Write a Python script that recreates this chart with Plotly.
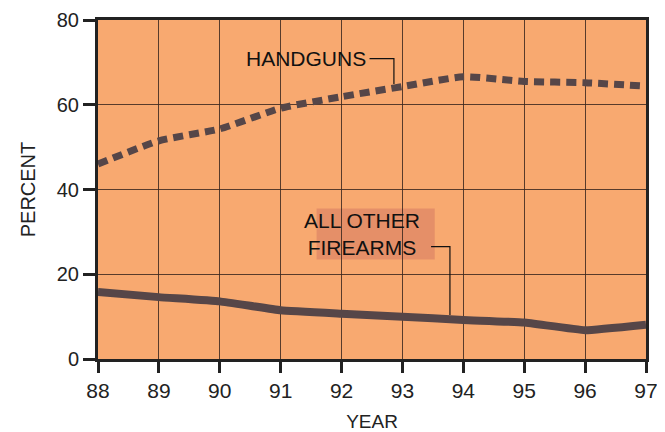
import plotly.graph_objects as go

years = [88, 89, 90, 91, 92, 93, 94, 95, 96, 97]
handguns = [46.0, 51.5, 54.3, 59.2, 61.9, 64.3, 66.6, 65.5, 65.2, 64.4]
other_firearms = [15.8, 14.6, 13.6, 11.5, 10.7, 10.0, 9.2, 8.6, 6.8, 8.1]
y_ticks = [0, 20, 40, 60, 80]

LINE_COLOR = "#564648"
BG = "#F8A970"
GRID = "rgba(60,40,30,0.85)"
FONT = "Liberation Sans, Arial, sans-serif"
NARROW = "Liberation Sans Narrow, Arial Narrow, Liberation Sans, sans-serif"

fig = go.Figure()
fig.add_trace(go.Scatter(
    x=years, y=handguns, mode="lines",
    line=dict(color=LINE_COLOR, width=7, dash="10px,6px", shape="spline", smoothing=0.5),
    showlegend=False, hoverinfo="skip"))
fig.add_trace(go.Scatter(
    x=years, y=other_firearms, mode="lines",
    line=dict(color=LINE_COLOR, width=8, shape="spline", smoothing=0.3),
    showlegend=False, hoverinfo="skip"))

# label box for ALL OTHER FIREARMS
fig.add_shape(type="rect", xref="x", yref="y", x0=91.59, x1=93.53, y0=23.5, y1=35.5,
              fillcolor="#E58F68", line=dict(width=0), layer="below")
# leader lines
fig.add_shape(type="path", xref="x", yref="y",
              path="M 92.46 70.9 L 92.86 70.9 L 92.86 64.9",
              line=dict(color="#111111", width=1.2))
fig.add_shape(type="path", xref="x", yref="y",
              path="M 93.47 26.5 L 93.78 26.5 L 93.78 10.4",
              line=dict(color="#111111", width=1.2))

fig.add_annotation(x=92.43, y=70.9, xref="x", yref="y", text="HANDGUNS",
                   showarrow=False, xanchor="right", yanchor="middle",
                   font=dict(family=FONT, size=21, color="#111111"))
fig.add_annotation(x=92.33, y=29.5, xref="x", yref="y", text="ALL OTHER<br>FIREARMS",
                   showarrow=False, xanchor="center", yanchor="middle", align="center",
                   font=dict(family=FONT, size=21, color="#111111"))

fig.update_layout(
    width=657, height=424,
    margin=dict(l=90, r=19, t=12, b=73, autoexpand=False),
    paper_bgcolor="white", plot_bgcolor=BG,
    font=dict(family=FONT, size=19, color="#222222"),
    xaxis=dict(
        range=[88, 97], tickmode="array", tickvals=years,
        ticktext=[str(y) for y in years],
        showgrid=True, gridcolor=GRID, gridwidth=1,
        showline=True, linecolor="#222222", linewidth=3, mirror=True,
        ticks="outside", ticklen=11, tickwidth=3, tickcolor="#222222",
        zeroline=False, automargin=False, ticklabeloverflow="allow",
        title=dict(text="YEAR", font=dict(family=FONT, size=19), standoff=14),
        tickfont=dict(family=NARROW, size=21),
    ),
    yaxis=dict(
        range=[0, 80], tickmode="array", tickvals=y_ticks,
        ticktext=[str(v) for v in y_ticks],
        showgrid=True, gridcolor=GRID, gridwidth=1,
        showline=True, linecolor="#222222", linewidth=3, mirror=True,
        ticks="outside", ticklen=12, tickwidth=3, tickcolor="#222222",
        zeroline=False, automargin=False, ticklabeloverflow="allow",
        title=dict(text="PERCENT", font=dict(family=FONT, size=20), standoff=16),
        tickfont=dict(family=NARROW, size=20),
    ),
)

fig.write_html("out.html")
